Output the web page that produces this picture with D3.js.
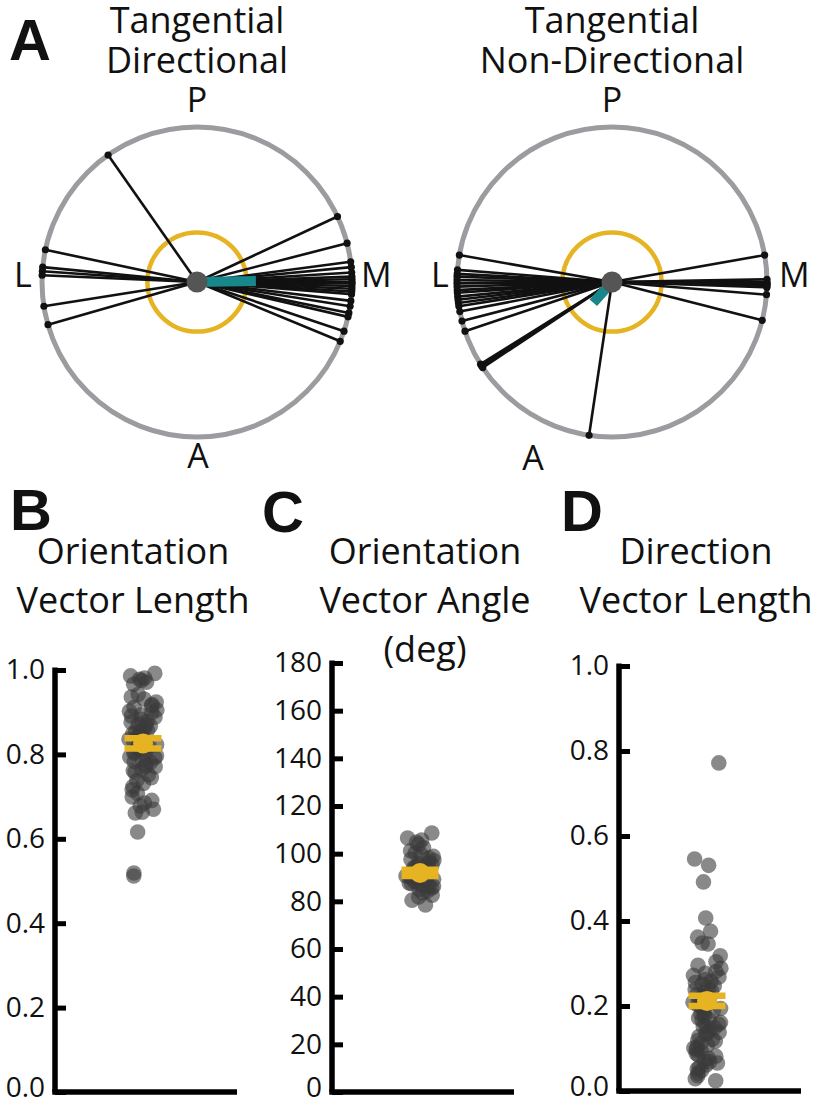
<!DOCTYPE html>
<html>
<head>
<meta charset="utf-8">
<script src="https://cdn.jsdelivr.net/npm/d3@7"></script>
<style>
  html, body { margin: 0; padding: 0; background: #fff; }
  text { font-family: "Open Sans", sans-serif; fill: #111; }
  .panel { font-family: "Liberation Sans", Arial, sans-serif; font-weight: bold; }
</style>
</head>
<body>
<svg id="fig" width="819" height="1106"></svg>
<script>
// ---------------- DATA ----------------
const panelLetters = ["A", "B", "C", "D"];
const polarTitles = [["Tangential", "Directional"], ["Tangential", "Non-Directional"]];
const compassLabels = ["P", "L", "M", "A"];

// preferred direction angles (deg, 0 = M, 90 = P, 180 = L, 270 = A)
const directionalAngles = [125, 168, 174.5, 176, 177.5, 189, 196,
  25, 14.5, 7.5, 5.5, 3.5, 2, 1, 0, -0.5, -1.5, -2.5, -3.5, -4.5, -7, -9, -11.5, -13, -18.5, -22.5];
const nonDirectionalAngles = [170, 175.5, 177, 178, 179.3, 180.5, 181.7, 183, 184, 185.4, 186.6, 187.8, 189, 191, 194.6, 198.5,
  212, 212.8, 213.5, 261.5,
  10, 1, 0, -0.5, -1, -1.5, -2, -4.7, -14.3];
// population direction vector (angle deg, length 0..1)
const directionalVector = [1, 0.38];
const nonDirectionalVector = [228, 0.18];
const referenceRing = 0.32;

// B: orientation vector length
const orientationLength = [0.992, 0.986, 0.981, 0.978, 0.975, 0.971, 0.966, 0.942, 0.931, 0.924, 0.918, 0.911,
  0.905, 0.899, 0.894, 0.888, 0.883, 0.878, 0.872, 0.867, 0.862, 0.858, 0.853, 0.849, 0.845, 0.841, 0.836,
  0.832, 0.828, 0.823, 0.819, 0.815, 0.81, 0.806, 0.801, 0.797, 0.792, 0.787, 0.781, 0.776, 0.771, 0.765,
  0.758, 0.752, 0.745, 0.738, 0.731, 0.724, 0.716, 0.708, 0.699, 0.691, 0.685, 0.678, 0.67, 0.663, 0.661,
  0.616, 0.519, 0.512,
  0.936, 0.915, 0.902, 0.891, 0.876, 0.869, 0.855, 0.847, 0.838, 0.826, 0.812, 0.803, 0.794, 0.783, 0.772, 0.761];
// C: orientation vector angle (deg)
const orientationAngle = [108.7, 106.6, 105.7, 104.8, 103.9, 102.5, 101.2, 100.4, 99.6, 98.9, 98.2, 97.6,
  97.1, 96.5, 96, 95.4, 94.9, 94.4, 93.9, 93.5, 93.1, 92.6, 92.2, 91.8, 91.4, 91, 90.6, 90.2, 89.8, 89.3,
  88.9, 88.4, 87.9, 87.4, 86.8, 86.2, 85.6, 85, 84.3, 83.5, 82.6, 81.8, 80.5, 78.5,
  95.8, 94.2, 92.9, 91.6, 90.4, 89.1, 87.7, 86.5];
// D: direction vector length
const directionLength = [0.772, 0.546, 0.531, 0.492, 0.407, 0.376, 0.362, 0.348, 0.346, 0.318, 0.304, 0.296,
  0.289, 0.281, 0.277, 0.268, 0.262, 0.258, 0.251, 0.247, 0.243, 0.236, 0.231, 0.226, 0.222, 0.214, 0.209,
  0.203, 0.198, 0.194, 0.188, 0.181, 0.177, 0.172, 0.168, 0.161, 0.157, 0.153, 0.149, 0.143, 0.138, 0.134,
  0.128, 0.122, 0.117, 0.112, 0.108, 0.103, 0.097, 0.093, 0.088, 0.082, 0.077, 0.071, 0.066, 0.061, 0.055,
  0.048, 0.042, 0.036, 0.029, 0.024,
  0.272, 0.255, 0.238, 0.219, 0.201, 0.185, 0.166, 0.151, 0.136, 0.119, 0.101, 0.085, 0.069, 0.052];
// mean and SEM
const meanSem = [[0.826, 0.012], [91.9, 1.3], [0.212, 0.012]];

const scatterTitles = [["Orientation", "Vector Length"], ["Orientation", "Vector Angle", "(deg)"], ["Direction", "Vector Length"]];
const ticksLength = [0, 0.2, 0.4, 0.6, 0.8, 1.0];
const ticksAngle = [0, 20, 40, 60, 80, 100, 120, 140, 160, 180];

// ---------------- DRAW ----------------
const svg = d3.select("#fig");
svg.append("rect").attr("width", 819).attr("height", 1106).attr("fill", "#fff");

const GRAY = "#9c9ca0", YELLOW = "#e6b422", TEAL = "#17878b", DOT = "#555555";

// panel letters
const letterPos = [[9, 60], [10, 530], [262, 532], [561, 531]];
panelLetters.forEach((t, i) => {
  svg.append("text").attr("class", "panel").attr("x", letterPos[i][0]).attr("y", letterPos[i][1])
    .attr("font-size", 58).text(t);
});

function multiline(sel, x, y0, step, lines, size) {
  const t = sel.append("text").attr("text-anchor", "middle").attr("font-size", size);
  lines.forEach((s, i) => {
    t.append("tspan").attr("x", x).attr("y", y0 + step * i).text(s);
  });
  return t;
}

function polar(cx, cy, angles, vec, titles, labelPos) {
  const g = svg.append("g").attr("transform", `translate(${cx},${cy})`);
  const r = d3.scaleLinear().domain([0, 1]).range([0, 155]);
  const pt = (deg, v) => d3.pointRadial(Math.PI / 2 - deg * Math.PI / 180, r(v));

  multiline(g, 0, 33 - cy, 40, titles, 36);
  compassLabels.forEach((t, i) => {
    const p = labelPos[i];
    g.append("text").attr("x", p[0] - cx).attr("y", p[1] - cy).attr("text-anchor", p[2])
      .attr("font-size", 34).text(t);
  });

  g.append("circle").attr("r", r(1)).attr("fill", "none").attr("stroke", GRAY).attr("stroke-width", 5);
  g.append("circle").attr("r", r(referenceRing)).attr("fill", "none").attr("stroke", YELLOW).attr("stroke-width", 4.5);

  g.selectAll("line.cell").data(angles).join("line").attr("class", "cell")
    .attr("x1", 0).attr("y1", 0)
    .attr("x2", d => pt(d, 1)[0]).attr("y2", d => pt(d, 1)[1])
    .attr("stroke", "#111").attr("stroke-width", 2.6);
  g.selectAll("circle.end").data(angles).join("circle").attr("class", "end")
    .attr("cx", d => pt(d, 1)[0]).attr("cy", d => pt(d, 1)[1]).attr("r", 3.6).attr("fill", "#111");

  const e = pt(vec[0], vec[1]);
  g.append("line").attr("x1", 0).attr("y1", 0).attr("x2", e[0]).attr("y2", e[1])
    .attr("stroke", TEAL).attr("stroke-width", 10);
  g.append("circle").attr("r", 10.5).attr("fill", DOT);
}

polar(197, 282, directionalAngles, directionalVector, polarTitles[0],
  [[197, 112, "middle"], [14, 287, "start"], [361, 287, "start"], [198, 468, "middle"]]);
polar(612, 282, nonDirectionalAngles, nonDirectionalVector, polarTitles[1],
  [[612, 112, "middle"], [431, 287, "start"], [779, 287, "start"], [533, 470, "middle"]]);

// deterministic, irregular horizontal jitter (layout only)
const jitter = i => { const s = Math.sin((i + 1) * 12.9898) * 43758.5453; return s - Math.floor(s) - 0.5; };

function scatter(axisX, yTop, yBottom, domain, ticks, fmt, values, ms, titles, titleX) {
  multiline(svg, titleX, 564, 49, titles, 36);
  const g = svg.append("g").attr("transform", `translate(${axisX},0)`);
  const y = d3.scaleLinear().domain(domain).range([yBottom, yTop]);
  const x = d3.scaleBand().domain(["cells"]).range([0, 176]).padding(0.7);
  const cxm = x("cells") + x.bandwidth() / 2;

  const ax = g.append("g").call(d3.axisLeft(y).tickValues(ticks).tickFormat(fmt)
    .tickSizeInner(-11).tickSizeOuter(0).tickPadding(10));
  ax.select(".domain").attr("stroke", "#000").attr("stroke-width", 5.5).attr("d", `M0,${yTop - 2.5}V${yBottom}`);
  ax.selectAll(".tick line").attr("stroke", "#000").attr("stroke-width", 5);
  ax.selectAll(".tick text").attr("font-size", 28).attr("fill", "#111")
    .attr("font-family", "'Open Sans', sans-serif")
    .attr("dy", d => d === domain[0] ? "0.16em" : "0.32em");
  g.append("line").attr("x1", -2.75).attr("x2", 182).attr("y1", y(domain[0])).attr("y2", y(domain[0]))
    .attr("stroke", "#000").attr("stroke-width", 5.5);

  g.selectAll("circle.pt").data(values).join("circle").attr("class", "pt")
    .attr("cx", (d, i) => cxm + jitter(i) * 28)
    .attr("cy", d => y(d)).attr("r", 7.8)
    .attr("fill", "#3a3a3a").attr("fill-opacity", 0.6);

  const [m, s] = ms;
  const mg = g.append("g");
  mg.append("line").attr("x1", cxm).attr("x2", cxm).attr("y1", y(m - s)).attr("y2", y(m + s))
    .attr("stroke", YELLOW).attr("stroke-width", 6);
  [m - s, m + s].forEach(v => {
    mg.append("line").attr("x1", cxm - 18.5).attr("x2", cxm + 18.5).attr("y1", y(v)).attr("y2", y(v))
      .attr("stroke", YELLOW).attr("stroke-width", 6.5);
  });
  mg.append("circle").attr("cx", cxm).attr("cy", y(m)).attr("r", 10).attr("fill", YELLOW);
}

const f1 = d3.format(".1f");
scatter(55, 670, 1092, [0, 1], ticksLength, f1, orientationLength, meanSem[0], scatterTitles[0], 133);
scatter(332, 663, 1092, [0, 180], ticksAngle, d3.format("d"), orientationAngle, meanSem[1], scatterTitles[1], 425);
scatter(619, 666, 1091, [0, 1], ticksLength, f1, directionLength, meanSem[2], scatterTitles[2], 696);
</script>
</body>
</html>
